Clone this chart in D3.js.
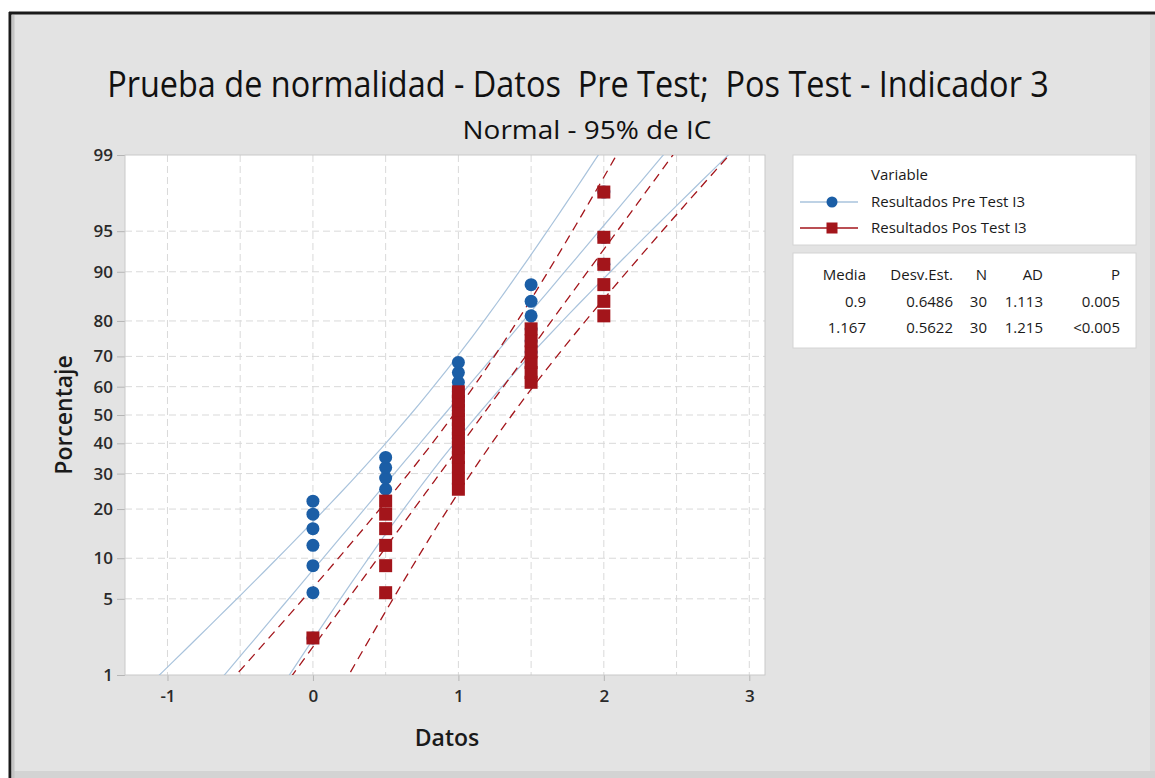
<!DOCTYPE html>
<html>
<head>
<meta charset="utf-8">
<script src="https://cdn.jsdelivr.net/npm/d3@7"></script>
<style>
  body { margin: 0; background: #ffffff; }
  svg { display: block; font-family: "Open Sans", "Noto Sans", sans-serif; }
  .keep { white-space: pre; }
</style>
</head>
<body>
<div id="plot-canvas"></div>
<script>
// data levels and how many observations sit at each one (n = 30 per group)
const levels = [0, 0.5, 1, 1.5, 2];
const preCounts = [7, 4, 10, 6, 3];
const posCounts = [1, 6, 11, 6, 6];

const seriesNames = ["Resultados Pre Test I3", "Resultados Pos Test I3"];
const statMedia = [0.9, 1.167];
const statDesv = [0.6486, 0.5622];
const statN = [30, 30];
const statAD = ["1.113", "1.215"];
const statP = ["0.005", "<0.005"];

const yTicks = [1, 5, 10, 20, 30, 40, 50, 60, 70, 80, 90, 95, 99];
const xTicks = [-1, 0, 1, 2, 3];
const xGrid = [-1, -0.5, 0, 0.5, 1, 1.5, 2, 2.5, 3];

const width = 1155, height = 778;
const plot = {left: 125, right: 765, top: 155, bottom: 675};
const blue = "#1b5ea6", red = "#a3151b";
const blueLine = "#a9c3dc", redLine = "#a3151b";

// inverse of the standard normal cdf (Acklam)
function probit(p) {
    const a = [-39.69683028665376, 220.9460984245205, -275.9285104469687, 138.3577518672690, -30.66479806614716, 2.506628277459239];
    const b = [-54.47609879822406, 161.5858368580409, -155.6989798598866, 66.80131188771972, -13.28068155288572];
    const c = [-0.007784894002430293, -0.3223964580411365, -2.400758277161838, -2.549732539343734, 4.374664141464968, 2.938163982698783];
    const d = [0.007784695709041462, 0.3224671290700398, 2.445134137142996, 3.754408661907416];
    const pl = 0.02425;
    let q, r;
    if (p < pl) {
        q = Math.sqrt(-2 * Math.log(p));
        return (((((c[0] * q + c[1]) * q + c[2]) * q + c[3]) * q + c[4]) * q + c[5]) /
            ((((d[0] * q + d[1]) * q + d[2]) * q + d[3]) * q + 1);
    }
    if (p > 1 - pl) {
        q = Math.sqrt(-2 * Math.log(1 - p));
        return -(((((c[0] * q + c[1]) * q + c[2]) * q + c[3]) * q + c[4]) * q + c[5]) /
            ((((d[0] * q + d[1]) * q + d[2]) * q + d[3]) * q + 1);
    }
    q = p - 0.5;
    r = q * q;
    return (((((a[0] * r + a[1]) * r + a[2]) * r + a[3]) * r + a[4]) * r + a[5]) * q /
        (((((b[0] * r + b[1]) * r + b[2]) * r + b[3]) * r + b[4]) * r + 1);
}

const x = d3.scaleLinear().domain([-1.292, 3.108]).range([plot.left, plot.right]);
const y = d3.scaleLinear().domain([probit(0.01), probit(0.99)]).range([plot.bottom, plot.top]);

// expand counts into ranked points with Benard median ranks
function rankedPoints(counts) {
    const n = d3.sum(counts);
    const pts = [];
    let i = 1;
    levels.forEach(function (v, k) {
        for (let j = 0; j < counts[k]; j++) {
            pts.push({value: v, p: (i - 0.3) / (n + 0.4)});
            i++;
        }
    });
    return pts;
}

// fitted line and 95% bands of the percentile estimate
function fitLines(mu, sd, n) {
    const zs = d3.range(-3, 3.01, 0.1);
    const fit = [], lo = [], hi = [];
    zs.forEach(function (z) {
        const xp = mu + sd * z;
        const half = 1.96 * sd / Math.sqrt(n) * Math.sqrt(1 + z * z / 2);
        fit.push([xp, z]);
        lo.push([xp - half, z]);
        hi.push([xp + half, z]);
    });
    return [lo, fit, hi];
}

// squeeze a centred text horizontally so it spans the given width
function condensed(parent, cx, cy, size, spanWidth, label) {
    const g = parent.append("g");
    const t = g.append("text")
        .attr("class", "keep")
        .attr("text-anchor", "middle")
        .attr("font-size", size)
        .attr("fill", "#111")
        .text(label);
    const natural = t.node().getComputedTextLength();
    g.attr("transform", "translate(" + cx + "," + cy + ") scale(" + (spanWidth / natural) + ",1)");
    return g;
}

const svg = d3.select("#plot-canvas").append("svg")
    .attr("width", width)
    .attr("height", height);

// outer panel
svg.append("rect").attr("x", 9).attr("y", 12).attr("width", width - 9).attr("height", height - 12)
    .attr("fill", "#e3e3e3");
svg.append("rect").attr("x", 1150).attr("y", 14).attr("width", 5).attr("height", height - 14)
    .attr("fill", "#dadada");
svg.append("rect").attr("x", 9).attr("y", 771).attr("width", width - 9).attr("height", 7)
    .attr("fill", "#d3d3d3");
svg.append("line").attr("x1", 9).attr("x2", width).attr("y1", 13).attr("y2", 13)
    .attr("stroke", "#1a1a1a").attr("stroke-width", 3);
svg.append("line").attr("x1", 10).attr("x2", 10).attr("y1", 12).attr("y2", height)
    .attr("stroke", "#1a1a1a").attr("stroke-width", 3);
svg.append("line").attr("x1", 13).attr("x2", 13).attr("y1", 15).attr("y2", height)
    .attr("stroke", "#c4c4c4").attr("stroke-width", 3);

// titles
condensed(svg, 578, 97, 37, 942, "Prueba de normalidad - Datos  Pre Test;  Pos Test - Indicador 3");
condensed(svg, 587, 139, 25, 249, "Normal - 95% de IC");

// plot background
svg.append("rect")
    .attr("x", plot.left).attr("y", plot.top)
    .attr("width", plot.right - plot.left).attr("height", plot.bottom - plot.top)
    .attr("fill", "#ffffff");

svg.append("defs").append("clipPath").attr("id", "clip")
    .append("rect")
    .attr("x", plot.left).attr("y", plot.top)
    .attr("width", plot.right - plot.left).attr("height", plot.bottom - plot.top);

//Draw grid
svg.append("g").selectAll("line")
    .data(yTicks.slice(1, -1))
    .enter().append("line")
    .attr("x1", plot.left).attr("x2", plot.right)
    .attr("y1", d => y(probit(d / 100))).attr("y2", d => y(probit(d / 100)))
    .attr("stroke", "#d9d9d9").attr("stroke-dasharray", "7,4");

svg.append("g").selectAll("line")
    .data(xGrid)
    .enter().append("line")
    .attr("x1", d => x(d)).attr("x2", d => x(d))
    .attr("y1", plot.top).attr("y2", plot.bottom)
    .attr("stroke", "#d9d9d9").attr("stroke-dasharray", "7,4");

//Draw axes
const xAxis = d3.axisBottom(x).tickValues(xTicks).tickSize(6).tickPadding(9).tickFormat(d => String(d));
const yAxis = d3.axisLeft(y)
    .tickValues(yTicks.map(p => probit(p / 100)))
    .tickSize(8).tickPadding(4)
    .tickFormat((d, i) => yTicks[i]);

const gx = svg.append("g")
    .attr("transform", "translate(0," + plot.bottom + ")")
    .call(xAxis);
const gy = svg.append("g")
    .attr("transform", "translate(" + plot.left + ",0)")
    .call(yAxis);
[gx, gy].forEach(function (g) {
    g.select(".domain").remove();
    g.selectAll(".tick line").attr("stroke", "#b5b5b5");
    g.selectAll(".tick text")
        .attr("font-family", "'Open Sans', sans-serif")
        .attr("font-size", 17)
        .attr("font-weight", 600)
        .attr("fill", "#2a2a2a");
});

svg.append("rect")
    .attr("x", plot.left).attr("y", plot.top)
    .attr("width", plot.right - plot.left).attr("height", plot.bottom - plot.top)
    .attr("fill", "none").attr("stroke", "#c9c9c9");

svg.append("text")
    .attr("transform", "translate(72," + (plot.top + plot.bottom) / 2 + ") rotate(-90)")
    .attr("text-anchor", "middle")
    .attr("font-size", 23)
    .attr("font-weight", 600)
    .attr("fill", "#1a1a1a")
    .text("Porcentaje");

svg.append("text")
    .attr("x", (plot.left + plot.right) / 2 + 2).attr("y", 746)
    .attr("text-anchor", "middle")
    .attr("font-size", 23)
    .attr("font-weight", 600)
    .attr("fill", "#1a1a1a")
    .text("Datos");

//Draw fitted lines and confidence bands
const lineGen = d3.line().x(d => x(d[0])).y(d => y(d[1]));
const lines = svg.append("g").attr("clip-path", "url(#clip)");

fitLines(statMedia[0], statDesv[0], statN[0]).forEach(function (pts) {
    lines.append("path").attr("d", lineGen(pts))
        .attr("fill", "none").attr("stroke", blueLine).attr("stroke-width", 1.2);
});
fitLines(statMedia[1], statDesv[1], statN[1]).forEach(function (pts) {
    lines.append("path").attr("d", lineGen(pts))
        .attr("fill", "none").attr("stroke", redLine).attr("stroke-width", 1.3)
        .attr("stroke-dasharray", "9,6");
});

//Draw data points
svg.append("g").selectAll("circle")
    .data(rankedPoints(preCounts))
    .enter().append("circle")
    .attr("cx", d => x(d.value))
    .attr("cy", d => y(probit(d.p)))
    .attr("r", 6.5)
    .attr("fill", blue);

svg.append("g").selectAll("rect")
    .data(rankedPoints(posCounts))
    .enter().append("rect")
    .attr("x", d => x(d.value) - 6.5)
    .attr("y", d => y(probit(d.p)) - 6.5)
    .attr("width", 13).attr("height", 13)
    .attr("fill", red);

// legend
const legend = svg.append("g").attr("font-size", 15).attr("font-weight", 500).attr("fill", "#1a1a1a");
legend.append("rect")
    .attr("x", 793).attr("y", 155).attr("width", 343).attr("height", 90)
    .attr("fill", "#ffffff").attr("stroke", "#d4d4d4");
legend.append("text").attr("x", 871).attr("y", 180).text("Variable");

seriesNames.forEach(function (name, i) {
    const ly = 202 + i * 26;
    legend.append("line")
        .attr("x1", 800).attr("x2", 858).attr("y1", ly).attr("y2", ly)
        .attr("stroke", i === 0 ? blueLine : redLine).attr("stroke-width", 1.3);
    if (i === 0) {
        legend.append("circle").attr("cx", 832).attr("cy", ly).attr("r", 5.5).attr("fill", blue);
    } else {
        legend.append("rect").attr("x", 826.5).attr("y", ly - 5.5)
            .attr("width", 11).attr("height", 11).attr("fill", red);
    }
    legend.append("text").attr("x", 871).attr("y", ly + 5).text(name);
});

// statistics table
const table = svg.append("g").attr("font-size", 15).attr("font-weight", 500)
    .attr("fill", "#1a1a1a").attr("text-anchor", "end");
table.append("rect")
    .attr("x", 793).attr("y", 253).attr("width", 343).attr("height", 95)
    .attr("fill", "#ffffff").attr("stroke", "#d4d4d4");

const colRight = [866, 953, 987, 1043, 1120];
const header = ["Media", "Desv.Est.", "N", "AD", "P"];
header.forEach(function (h, j) {
    table.append("text").attr("x", colRight[j]).attr("y", 280).text(h);
});
seriesNames.forEach(function (name, i) {
    const row = [String(statMedia[i]), statDesv[i].toFixed(4), String(statN[i]), statAD[i], statP[i]];
    row.forEach(function (v, j) {
        table.append("text").attr("x", colRight[j]).attr("y", 307 + i * 26).text(v);
    });
});
</script>
</body>
</html>
